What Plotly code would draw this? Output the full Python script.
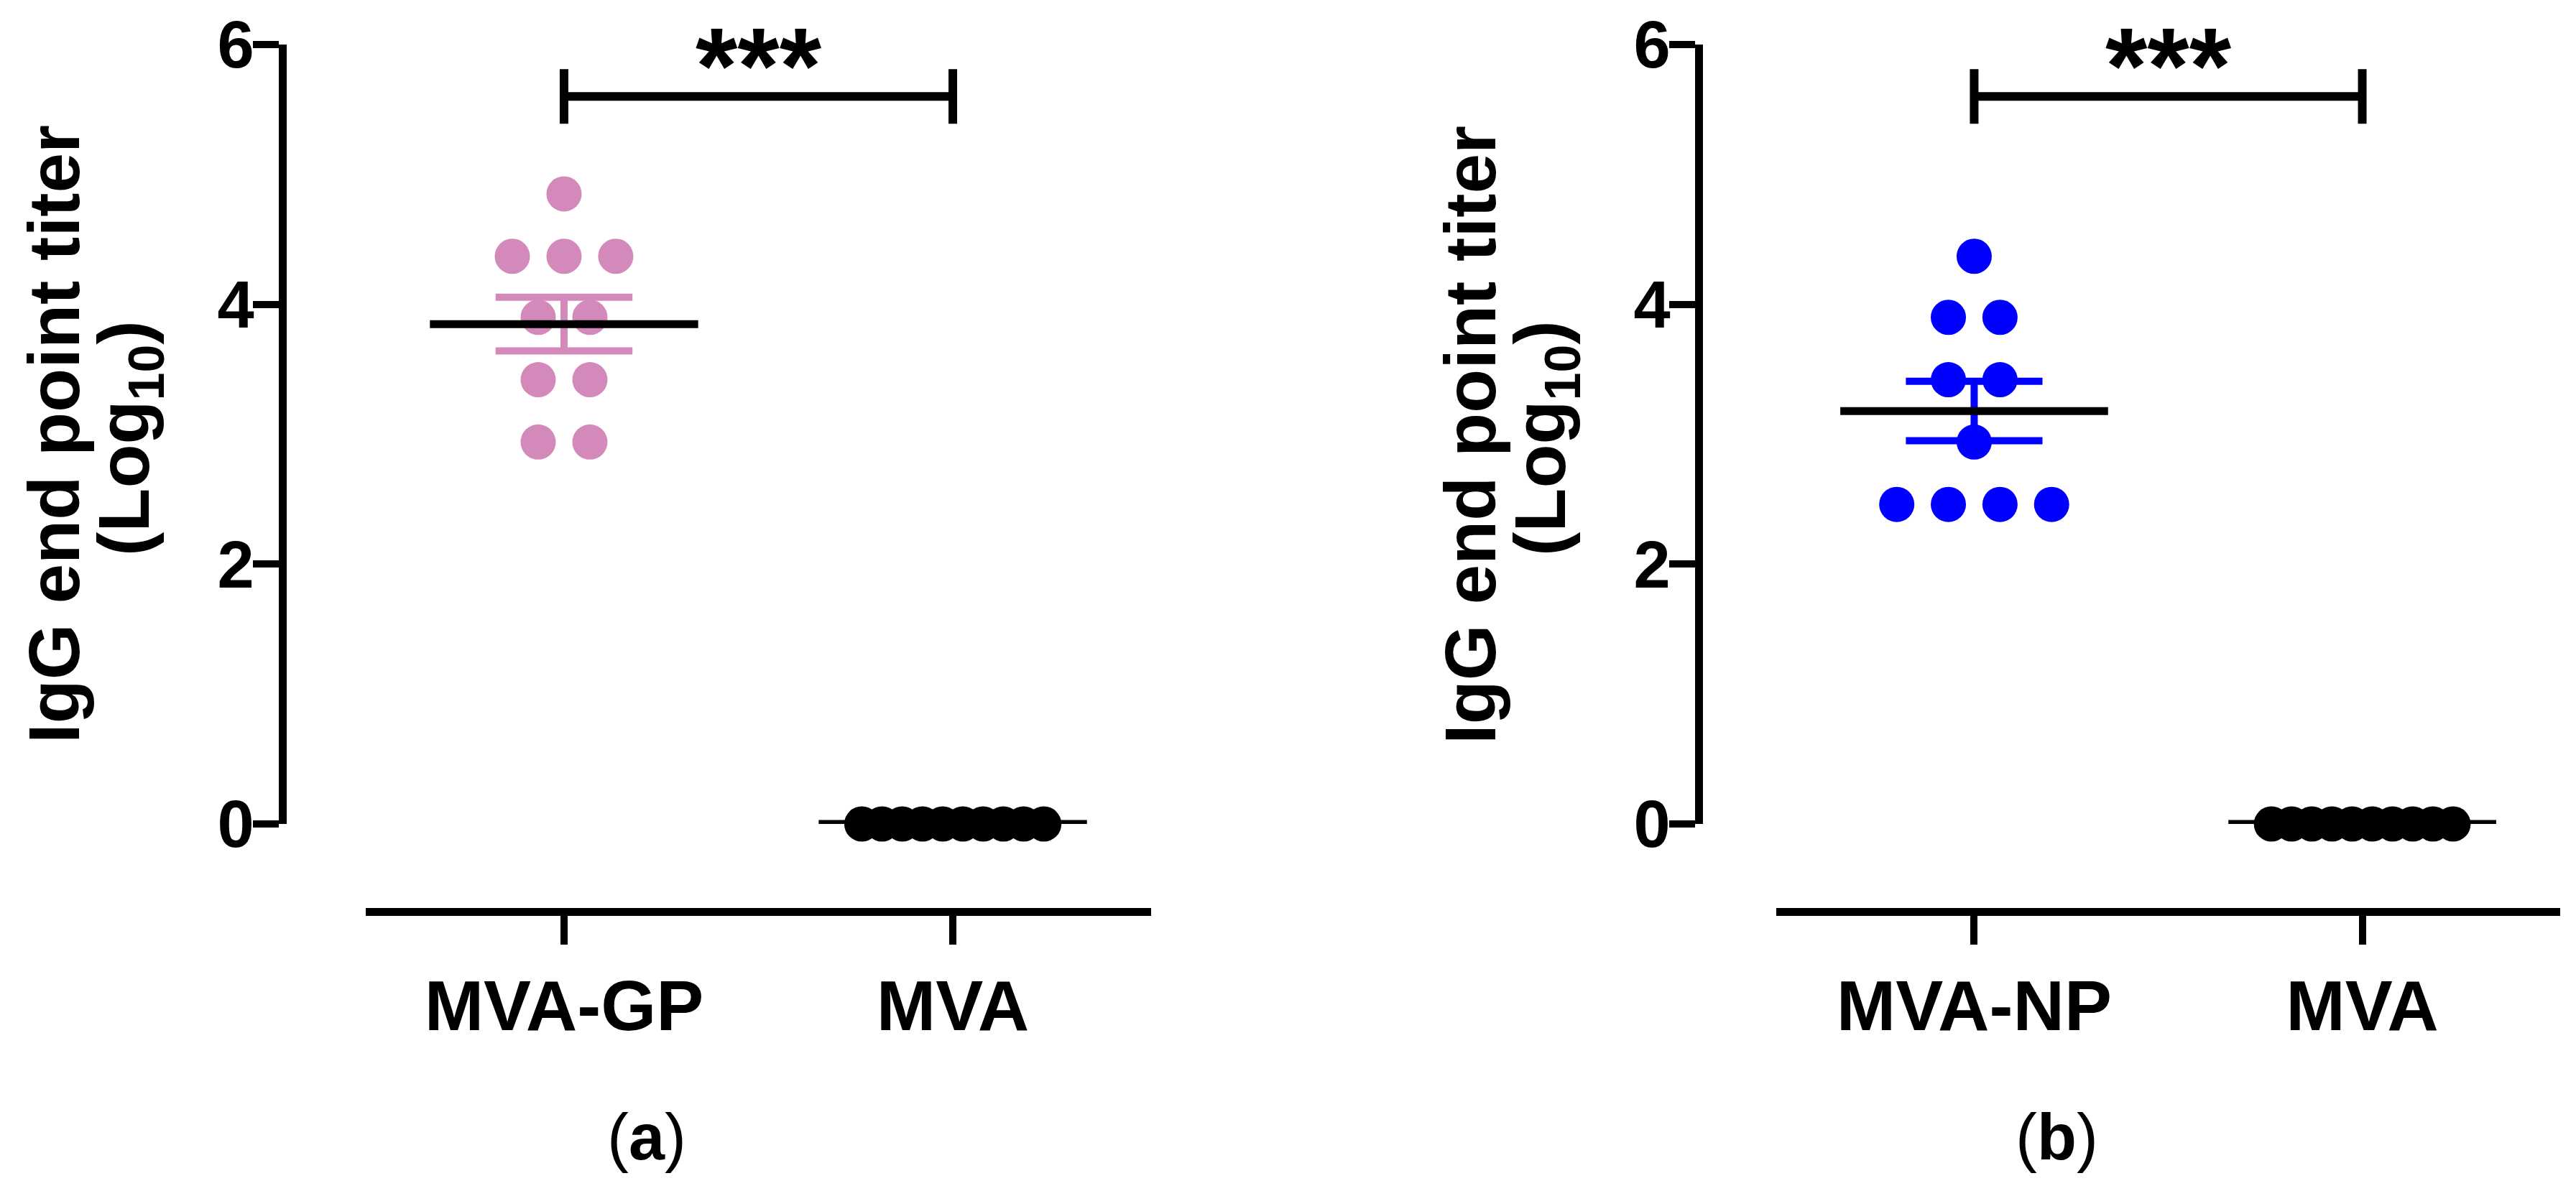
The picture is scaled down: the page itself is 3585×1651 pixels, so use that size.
import numpy as np
import plotly.graph_objects as go

# 데이터 (log10 IgG end point titer)
groups_a = ["MVA-GP", "MVA"]
groups_b = ["MVA-NP", "MVA"]
gp_vals = [4.85, 4.37, 4.37, 4.37, 3.90, 3.90, 3.42, 3.42, 2.94, 2.94]
np_vals = [4.37, 3.90, 3.90, 3.42, 3.42, 2.94, 2.46, 2.46, 2.46, 2.46]
mva_a_vals = [0, 0, 0, 0, 0, 0, 0, 0, 0, 0]
mva_b_vals = [0, 0, 0, 0, 0, 0, 0, 0, 0, 0]
y_ticks = [0, 2, 4, 6]
signif = "***"
panel_tags = ["a", "b"]

W, H = 3585, 1651
PINK = "#D489BB"
BLUE = "#0000FF"
FONT = "Liberation Sans, Arial, sans-serif"


def px(x):
    return x / W


def py(y):
    return 1 - y / H


def swarm(vals, center, step):
    # 같은 값끼리 가로로 나란히
    vals = np.asarray(vals, dtype=float)
    xs = np.zeros(len(vals))
    for v in np.unique(vals):
        idx = np.where(vals == v)[0]
        n = len(idx)
        xs[idx] = center + (np.arange(n) - (n - 1) / 2) * step
    return xs


def add_group(fig, vals, center, color, step, xa, ya):
    vals = np.asarray(vals, dtype=float)
    m = vals.mean()
    sem = vals.std(ddof=1) / np.sqrt(len(vals))
    fig.add_trace(go.Scatter(x=swarm(vals, center, step), y=vals, mode="markers",
                             marker=dict(size=49, color=color, line=dict(width=0)),
                             xaxis=xa, yaxis=ya, cliponaxis=False, showlegend=False))
    if sem > 0:
        fig.add_trace(go.Scatter(
            x=[center - 0.176, center + 0.176, None, center, center, None, center - 0.176, center + 0.176],
            y=[m + sem, m + sem, None, m + sem, m - sem, None, m - sem, m - sem],
            mode="lines", line=dict(color=color, width=10),
            xaxis=xa, yaxis=ya, cliponaxis=False, showlegend=False))
    fig.add_trace(go.Scatter(x=[center - 0.345, center + 0.345], y=[m, m], mode="lines",
                             line=dict(color="black", width=11),
                             xaxis=xa, yaxis=ya, cliponaxis=False, showlegend=False))


fig = go.Figure()

panels = [
    ("x", "y", groups_a, gp_vals, mva_a_vals, PINK, 393, 509, 1602),
    ("x2", "y2", groups_b, np_vals, mva_b_vals, BLUE, 2364, 2472, 3563),
]

y_top, y_zero = 62, 1147
x_line_y = 1269

for i, (xa, ya, cats, vals, ctrl, col, yax_px, x0, x1) in enumerate(panels):
    add_group(fig, vals, 0, col, 0.133, xa, ya)
    add_group(fig, ctrl, 1, "black", 0.052, xa, ya)

    # 유의성 표시
    fig.add_trace(go.Scatter(x=[0, 0, None, 0, 1, None, 1, 1],
                             y=[5.39, 5.81, None, 5.6, 5.6, None, 5.39, 5.81],
                             mode="lines", line=dict(color="black", width=12),
                             xaxis=xa, yaxis=ya, cliponaxis=False, showlegend=False))
    fig.add_annotation(x=0.5, y=py(6), xref=xa, yref="paper", text=signif, showarrow=False,
                       yanchor="top", font=dict(family=FONT, size=150, color="black", weight="bold"))

    sfx = "" if i == 0 else "2"
    fig.update_layout(**{
        "xaxis" + sfx: dict(domain=[px(x0), px(x1)], range=[-0.51, 1.51], anchor="free",
                            position=py(x_line_y), showline=True, linewidth=11, linecolor="black",
                            ticks="outside", ticklen=40, tickwidth=10, tickcolor="black",
                            tickvals=[0, 1], ticktext=cats, showgrid=False, zeroline=False,
                            automargin=False,
                            tickfont=dict(family=FONT, size=99, color="black", weight="bold")),
        "yaxis" + sfx: dict(domain=[py(y_zero), py(y_top)], range=[0, 6], anchor="free",
                            position=px(yax_px), showline=True, linewidth=11, linecolor="black",
                            ticks="outside", ticklen=36, tickwidth=10, tickcolor="black",
                            tickvals=y_ticks, showgrid=False, zeroline=False,
                            automargin=False, ticklabelstandoff=-20,
                            tickfont=dict(family=FONT, size=92, color="black", weight="bold")),
    })

    # y축 제목 (두 줄)
    fig.add_annotation(x=px(yax_px - 318), y=py(605), xref="paper", yref="paper",
                       text="IgG end point titer", textangle=-90,
                       showarrow=False, xanchor="center", yanchor="middle",
                       font=dict(family=FONT, size=100, color="black", weight="bold"))
    fig.add_annotation(x=px(yax_px - 214), y=py(610), xref="paper", yref="paper",
                       text="(Log<sub>10</sub>)", textangle=-90,
                       showarrow=False, xanchor="center", yanchor="middle",
                       font=dict(family=FONT, size=100, color="black", weight="bold"))
    # 패널 라벨
    fig.add_annotation(x=0.213, y=py(1583), xref=xa, yref="paper",
                       text="(<b>" + panel_tags[i] + "</b>)", showarrow=False,
                       xanchor="center", yanchor="middle",
                       font=dict(family=FONT, size=90, color="black"))

fig.update_layout(width=W, height=H, margin=dict(l=0, r=0, t=0, b=0, autoexpand=False),
                  plot_bgcolor="white", paper_bgcolor="white")

fig.write_html("out.html", config={"displayModeBar": False},
               post_script="document.body.style.margin='0px';")
